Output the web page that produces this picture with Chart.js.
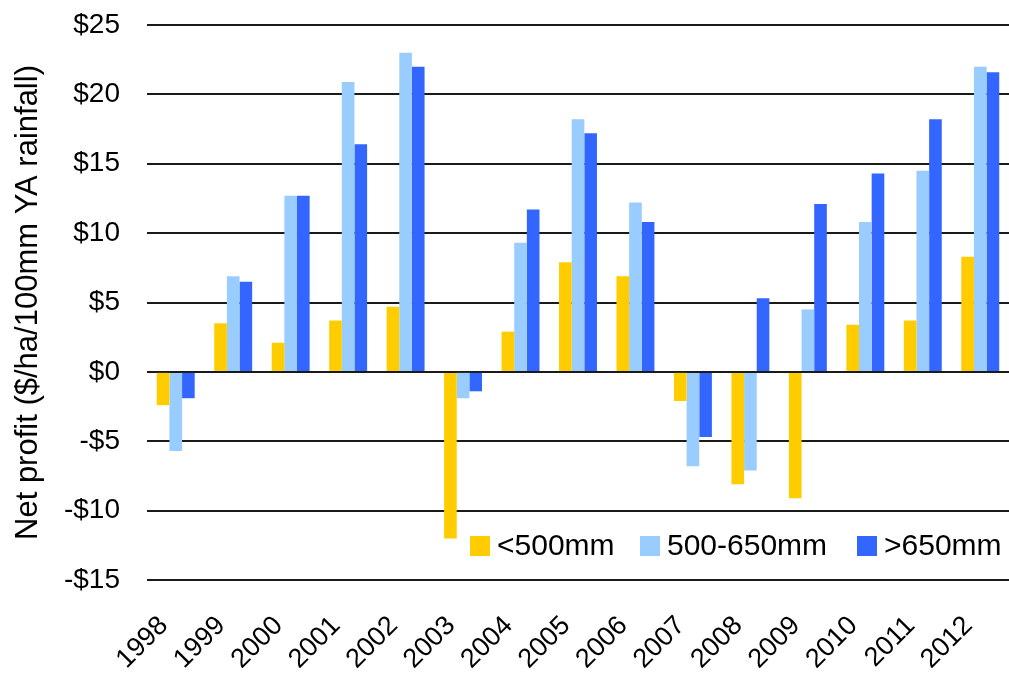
<!DOCTYPE html>
<html lang="en">
<head>
    <meta charset="UTF-8">
    <title>Net profit</title>
    <script src="https://cdn.jsdelivr.net/npm/chart.js"></script>
    <style>
        body { margin: 0; background: #fff; }
        .grfc { width: 1009px; height: 673px; }
    </style>
</head>
<body>
    <div class="grfc"><canvas id="grafico"></canvas></div>
<script>
    // dados
    const anos = ['1998', '1999', '2000', '2001', '2002', '2003', '2004', '2005',
        '2006', '2007', '2008', '2009', '2010', '2011', '2012'];
    const nomesSeries = ['<500mm', '500-650mm', '>650mm'];
    const abaixo500 = [-2.4, 3.5, 2.1, 3.7, 4.7, -12.0, 2.9, 7.9, 6.9, -2.1, -8.1, -9.1, 3.4, 3.7, 8.3];
    const de500a650 = [-5.7, 6.9, 12.7, 20.9, 23.0, -1.9, 9.3, 18.2, 12.2, -6.8, -7.1, 4.5, 10.8, 14.5, 22.0];
    const acima650 = [-1.9, 6.5, 12.7, 16.4, 22.0, -1.4, 11.7, 17.2, 10.8, -4.7, 5.3, 12.1, 14.3, 18.2, 21.6];
    const cores = ['#FFCC00', '#99CCFF', '#3366FF'];
    const ticksY = [-15, -10, -5, 0, 5, 10, 15, 20, 25];

    const fonte = 'Liberation Sans, Arial, sans-serif';

    // legenda desenhada dentro da área do gráfico
    const legendaInterna = {
        id: 'legendaInterna',
        afterDraw(chart) {
            const ctx = chart.ctx;
            const xs = [470, 640, 857];
            const y = 546;
            ctx.save();
            ctx.font = '30px ' + fonte;
            ctx.textBaseline = 'middle';
            for (let i = 0; i < nomesSeries.length; i++) {
                ctx.fillStyle = cores[i];
                ctx.fillRect(xs[i], y - 10, 20, 20);
                ctx.fillStyle = '#000';
                ctx.fillText(nomesSeries[i], xs[i] + 27, y + 1);
            }
            ctx.restore();
        }
    };

    const dados = {
        labels: anos,
        datasets: [
            { label: nomesSeries[0], data: abaixo500, backgroundColor: cores[0] },
            { label: nomesSeries[1], data: de500a650, backgroundColor: cores[1] },
            { label: nomesSeries[2], data: acima650, backgroundColor: cores[2] }
        ]
    };

    const config = {
        type: 'bar',
        data: dados,
        options: {
            responsive: true,
            maintainAspectRatio: false,
            animation: false,
            layout: { padding: { top: 25, right: 0, left: 0, bottom: 0 } },
            datasets: {
                bar: { categoryPercentage: 0.66, barPercentage: 1.0 }
            },
            plugins: {
                legend: { display: false },
                tooltip: { enabled: false }
            },
            scales: {
                x: {
                    grid: { display: false },
                    border: { display: false },
                    ticks: {
                        color: '#000',
                        font: { family: fonte, size: 27 },
                        minRotation: 45,
                        maxRotation: 45,
                        padding: 22,
                        labelOffset: -12
                    },
                    afterFit(scale) {
                        scale.height = 93;
                        scale.paddingLeft = 0;
                        scale.paddingRight = 0;
                    }
                },
                y: {
                    min: -15,
                    max: 25,
                    afterBuildTicks(scale) {
                        scale.ticks = ticksY.map(v => ({ value: v }));
                    },
                    grid: { color: '#1a1a1a', lineWidth: 2, drawTicks: false },
                    border: { display: false },
                    ticks: {
                        color: '#000',
                        padding: 27,
                        font: { family: fonte, size: 28 },
                        callback: v => (v < 0 ? '-$' + Math.abs(v) : '$' + v)
                    },
                    title: {
                        display: true,
                        text: 'Net profit ($/ha/100mm YA rainfall)',
                        color: '#000',
                        font: { family: fonte, size: 31 },
                        padding: { top: 10, bottom: 0 }
                    },
                    afterFit(scale) {
                        scale.width = 147;
                        scale.paddingTop = 0;
                        scale.paddingBottom = 0;
                    }
                }
            }
        },
        plugins: [legendaInterna]
    };

    let grafico = new Chart(document.getElementById('grafico'), config);
</script>
</body>
</html>
